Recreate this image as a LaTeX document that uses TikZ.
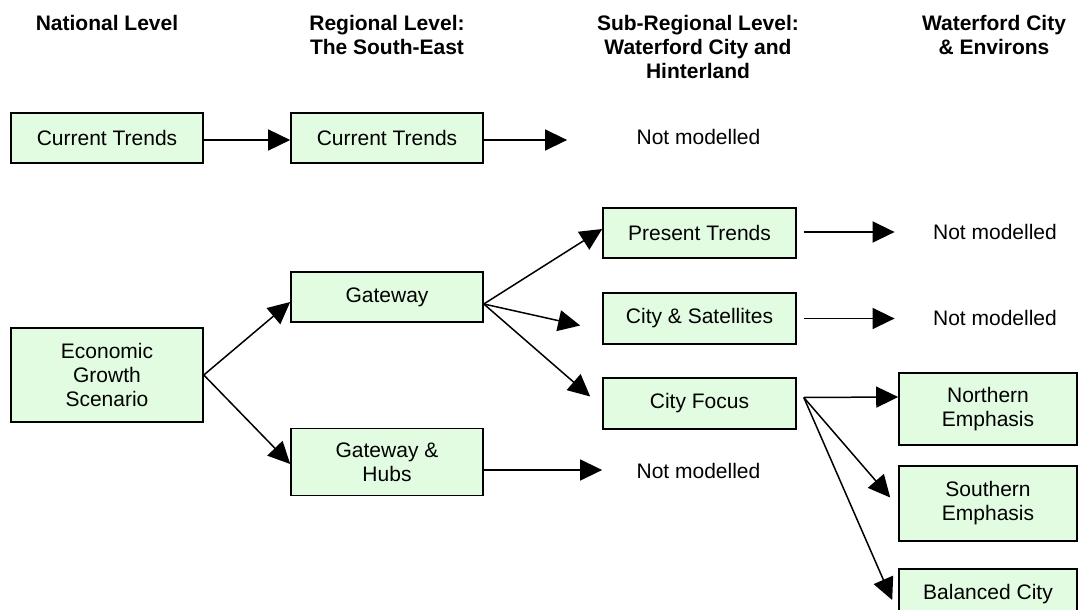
\documentclass[tikz,border=0pt]{standalone}
\usepackage{fontspec}
\setmainfont{Liberation Sans}
\usetikzlibrary{arrows.meta}
\definecolor{boxfill}{RGB}{226,252,226}
\begin{document}
\begin{tikzpicture}[x=1pt,y=-1pt,
  font=\fontsize{21}{24}\selectfont,
  stage/.style={draw=black, line width=1.6pt, fill=boxfill, align=center,
                inner sep=0pt, minimum width=192pt, minimum height=50pt},
  heading/.style={font=\fontsize{21}{24}\selectfont\bfseries, align=center},
  note/.style={align=center},
  flow/.style={line width=1.5pt, -{Triangle[length=22pt,width=21pt]}}]
\clip (0,0) rectangle (1088,610);

% column headings
\node[heading] (h1) at (107,23)   {National Level};
\node[heading] (h2) at (387,35)   {Regional Level:\\The South-East};
\node[heading] (h3) at (698,47)   {Sub-Regional Level:\\Waterford City and\\Hinterland};
\node[heading] (h4) at (994,35)   {Waterford City\\\& Environs};

% national level
\node[stage] (ct1)  at (107,138) {Current Trends};
\node[stage, minimum height=94pt] (econ) at (107,375) {Economic\\Growth\\Scenario};

% regional level
\node[stage] (ct2) at (387,138) {Current Trends};
\node[stage] (gw)  at (387,297) {Gateway};
\node[stage, minimum height=67pt] (gh) at (387,462) {Gateway \&\\Hubs};

% sub-regional level
\node[stage, minimum width=193pt] (pt) at (699.5,233)   {Present Trends};
\node[stage, minimum width=193pt, minimum height=51pt] (cs) at (699.5,318.5) {City \& Satellites};
\node[stage, minimum width=193pt, minimum height=51pt] (cf) at (699.5,403.5) {City Focus};

% city and environs
\node[stage, minimum width=178pt, minimum height=72pt] (ne) at (988,409)   {Northern\\Emphasis};
\node[stage, minimum width=178pt, minimum height=75pt] (se) at (988,503.5) {Southern\\Emphasis};
\node[stage, minimum width=178pt] (bc) at (988,594) {Balanced City};

% branches that stop here
\node[note] (nm1) at (698.5,137) {Not modelled};
\node[note] (nm2) at (698.5,471) {Not modelled};
\node[note] (nm3) at (995,232)   {Not modelled};
\node[note] (nm4) at (995,318)   {Not modelled};

% connectors
\draw[flow] ([yshift=-2pt]ct1.east) -- ([yshift=-2pt]ct2.west);
\draw[flow] ([yshift=-2pt]ct2.east) -- ([xshift=-66pt,yshift=-3pt]nm1.west);

\draw[flow] (econ.east) -- ([yshift=-5pt]gw.west);
\draw[flow] (econ.east) -- ([yshift=-2pt]gh.west);

\draw[flow] ([yshift=-7pt]gw.east) -- ([yshift=4pt]pt.west);
\draw[flow] ([yshift=-7pt]gw.east) -- ([xshift=-22pt,yshift=-7pt]cs.west);
\draw[flow] ([yshift=-7pt]gw.east) -- ([xshift=-12pt,yshift=7pt]cf.west);

\draw[flow] ([yshift=-8pt]gh.east) -- ([xshift=-31pt,yshift=1pt]nm2.west);

\draw[flow] ([xshift=7pt,yshift=1pt]pt.east) -- ([xshift=-35pt]nm3.west);
\draw[flow] ([xshift=7pt]cs.east) -- ([xshift=-35pt,yshift=-0.5pt]nm4.west);

\draw[flow] ([xshift=7pt,yshift=6pt]cf.east) -- ([yshift=12pt]ne.west);
\draw[flow] ([xshift=7pt,yshift=6pt]cf.east) -- ([xshift=-8pt,yshift=6pt]se.west);
\draw[flow] ([xshift=7pt,yshift=6pt]cf.east) -- ([xshift=-6pt,yshift=-6pt]bc.west);
\end{tikzpicture}
\end{document}
